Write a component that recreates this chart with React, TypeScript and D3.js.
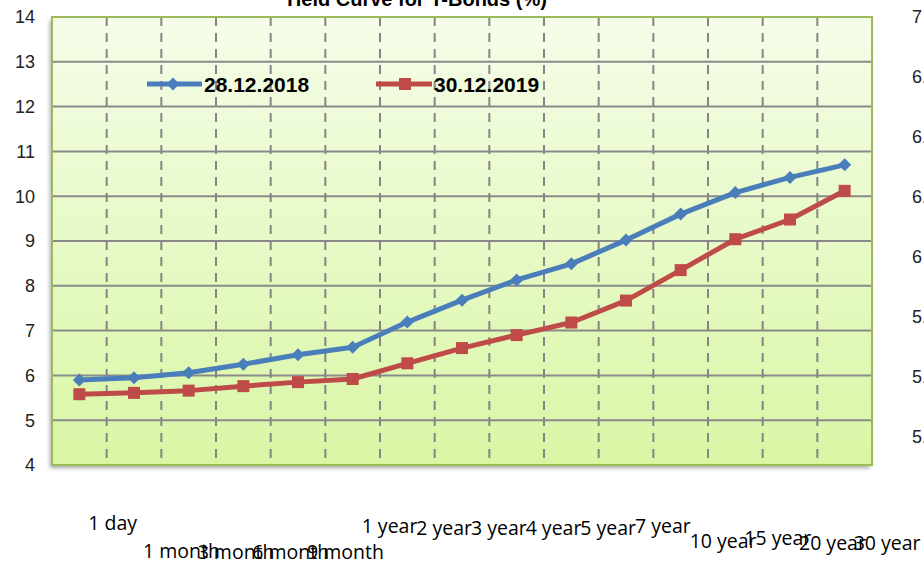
import React from "react";
import * as d3 from "d3";

const categories = [
  "1 day", "1 month", "3 month", "6 month", "9 month", "1 year", "2 year", "3 year",
  "4 year", "5 year", "7 year", "10 year", "15 year", "20 year", "30 year",
];
const yields2018 = [5.9, 5.95, 6.06, 6.25, 6.46, 6.63, 7.19, 7.68, 8.13, 8.49, 9.02, 9.6, 10.08, 10.42, 10.7];
const yields2019 = [5.58, 5.61, 5.66, 5.76, 5.85, 5.92, 6.27, 6.61, 6.9, 7.18, 7.67, 8.35, 9.04, 9.48, 10.12];
const seriesNames = ["28.12.2018", "30.12.2019"];
const leftTicks = [4, 5, 6, 7, 8, 9, 10, 11, 12, 13, 14];
const rightTicks = [7, 6.75, 6.5, 6.25, 6, 5.75, 5.5, 5.25];
const title = "Yield Curve for T-Bonds (%)";

// baseline of each category label (the labels sit at odd heights in the original)
const labelBaselines = [530, 558, 559, 559, 559, 533, 535, 535, 535, 535, 533, 548, 545, 550, 550];

const W = 924;
const H = 562;
const plot = { left: 52, right: 872, top: 17, bottom: 465 };
const blue = "#4a7ebb";
const red = "#be4b48";

const Diamond = ({ x, y, r, fill }) => (
  <path d={`M${x},${y - r}L${x + r},${y}L${x},${y + r}L${x - r},${y}Z`} fill={fill} />
);
const Square = ({ x, y, r, fill }) => (
  <rect x={x - r} y={y - r} width={r * 2} height={r * 2} fill={fill} />
);

export default function App() {
  const x = d3.scaleBand().domain(categories).range([plot.left, plot.right]).padding(0);
  const y = d3.scaleLinear().domain([4, 14]).range([plot.bottom, plot.top]);
  const yRight = d3.scaleLinear().domain([5, 7]).range([497, 17]);
  const cx = (c) => x(c) + x.bandwidth() / 2;

  const line = d3
    .line<number>()
    .x((_, i) => cx(categories[i]))
    .y((d) => y(d));

  const series = [
    { name: seriesNames[0], values: yields2018, color: blue, Marker: Diamond, r: 6.5 },
    { name: seriesNames[1], values: yields2019, color: red, Marker: Square, r: 6 },
  ];

  const boundaries = d3.range(categories.length + 1).map((i) => plot.left + i * x.step());

  return (
    <svg
      width={W}
      height={H}
      style={{ position: "absolute", left: 0, top: 0, background: "#fff" }}
    >
      <defs>
        <linearGradient id="bg" x1="0" y1="0" x2="0" y2="1">
          <stop offset="0%" stopColor="#f5fde9" />
          <stop offset="100%" stopColor="#d9f6a4" />
        </linearGradient>
        <filter id="shadow" x="-5%" y="-5%" width="110%" height="110%">
          <feDropShadow dx="-2" dy="3" stdDeviation="2" floodColor="#000" floodOpacity="0.35" />
        </filter>
      </defs>

      <text
        x={415}
        y={6}
        textAnchor="middle"
        fontFamily="Liberation Sans, Arial, sans-serif"
        fontWeight="bold"
        fontSize={20}
        fill="#000"
      >
        {title}
      </text>

      <rect
        x={plot.left}
        y={plot.top}
        width={plot.right - plot.left}
        height={plot.bottom - plot.top}
        fill="url(#bg)"
        filter="url(#shadow)"
      />

      {leftTicks.slice(1, -1).map((t) => (
        <line key={t} x1={plot.left} x2={plot.right} y1={y(t)} y2={y(t)} stroke="#8a8a8a" strokeWidth={2} />
      ))}
      {boundaries.map((bx, i) => (
        <line
          key={i}
          x1={bx}
          x2={bx}
          y1={plot.top}
          y2={plot.bottom}
          stroke="#858585"
          strokeWidth={2}
          strokeDasharray="9,7"
        />
      ))}

      <rect
        x={plot.left}
        y={plot.top}
        width={plot.right - plot.left}
        height={plot.bottom - plot.top}
        fill="none"
        stroke="#9bbb59"
        strokeWidth={2}
      />

      {leftTicks.map((t) => (
        <text
          key={t}
          x={35}
          y={y(t)}
          dy="0.35em"
          textAnchor="end"
          fontFamily="Liberation Sans, Arial, sans-serif"
          fontSize={18}
          fill="#222"
        >
          {t}
        </text>
      ))}
      {rightTicks.map((t) => (
        <text
          key={t}
          x={912}
          y={yRight(t)}
          dy="0.35em"
          fontFamily="Liberation Sans, Arial, sans-serif"
          fontSize={18}
          fill="#222"
        >
          {t}
        </text>
      ))}

      {series.map((s) => (
        <g key={s.name}>
          <path d={line(s.values)} fill="none" stroke={s.color} strokeWidth={5} strokeLinejoin="round" />
          {s.values.map((v, i) => (
            <s.Marker key={i} x={cx(categories[i])} y={y(v)} r={s.r} fill={s.color} />
          ))}
        </g>
      ))}

      {/* legend */}
      <g>
        <line x1={147} x2={202} y1={84} y2={84} stroke={blue} strokeWidth={5} />
        <Diamond x={173} y={84} r={6.5} fill={blue} />
        <text x={204} y={92} fontFamily="Liberation Sans, Arial, sans-serif" fontWeight="bold" fontSize={21} fill="#000">
          {seriesNames[0]}
        </text>
        <line x1={376} x2={432} y1={84} y2={84} stroke={red} strokeWidth={5} />
        <Square x={405} y={84} r={6} fill={red} />
        <text x={434} y={92} fontFamily="Liberation Sans, Arial, sans-serif" fontWeight="bold" fontSize={21} fill="#000">
          {seriesNames[1]}
        </text>
      </g>

      {categories.map((c, i) => (
        <text
          key={c}
          x={cx(c) + 9}
          y={labelBaselines[i]}
          fontFamily="Open Sans, sans-serif"
          fontSize={19.5}
          fill="#000"
        >
          {c}
        </text>
      ))}
    </svg>
  );
}
